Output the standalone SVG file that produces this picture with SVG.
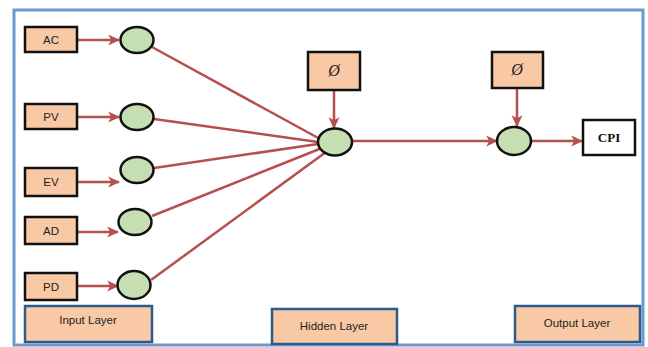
<svg xmlns="http://www.w3.org/2000/svg" width="648" height="347" viewBox="0 0 648 347">
<defs>
<marker id="arr" viewBox="0 0 10 10" refX="9" refY="5" markerWidth="4.8" markerHeight="4.8" orient="auto" markerUnits="strokeWidth">
<path d="M0,0.5 L10,5 L0,9.5 L2.5,5 Z" fill="#b5504f"/>
</marker>
</defs>
<style>
.box{fill:#f9c9a6;stroke:#111;stroke-width:2.5}
.neuron{fill:#c6dfb2;stroke:#111;stroke-width:2.5}
.layer{fill:#f9c9a6;stroke:#2c5a8a;stroke-width:2.5}
.lbl{font-family:"Liberation Sans",Arial,sans-serif;font-size:11.5px;fill:#222;text-anchor:middle}
.phi{font-family:"Liberation Serif",serif;font-style:italic;font-size:16px;fill:#222;text-anchor:middle}
.cpi{font-family:"Liberation Serif",serif;font-weight:bold;font-size:13px;fill:#111;text-anchor:middle}
.conn{stroke:#b5504f;stroke-width:2.5;fill:none}
.arrow{marker-end:url(#arr)}
</style>
<rect width="648" height="347" fill="#ffffff"/>
<rect x="14" y="10" width="629" height="335" fill="#ffffff" stroke="#6c9bd0" stroke-width="3"/>
<g id="connectors">
<line class="conn arrow" x1="77" y1="40" x2="119" y2="40"/>
<line class="conn arrow" x1="77" y1="117" x2="119" y2="117"/>
<line class="conn arrow" x1="77" y1="182" x2="119" y2="182"/>
<line class="conn arrow" x1="77" y1="232" x2="118" y2="232"/>
<line class="conn arrow" x1="77" y1="286" x2="118" y2="286"/>
<line class="conn" x1="152" y1="47" x2="320" y2="139"/>
<line class="conn" x1="154" y1="119" x2="318" y2="142"/>
<line class="conn" x1="154" y1="168" x2="318" y2="144"/>
<line class="conn" x1="152" y1="216" x2="322" y2="148"/>
<line class="conn" x1="151" y1="280" x2="326" y2="152"/>
<line class="conn arrow" x1="334" y1="90" x2="334" y2="128"/>
<line class="conn arrow" x1="352" y1="141" x2="497" y2="141"/>
<line class="conn arrow" x1="517" y1="88" x2="517" y2="126"/>
<line class="conn arrow" x1="532" y1="141" x2="582" y2="141"/>
</g>
<g id="AC"><rect class="box" x="25" y="27" width="52" height="25"/><text class="lbl" x="51" y="44">AC</text></g>
<g id="PV"><rect class="box" x="25" y="104" width="52" height="25"/><text class="lbl" x="51" y="121">PV</text></g>
<g id="EV"><rect class="box" x="25" y="168" width="52" height="28"/><text class="lbl" x="51" y="186">EV</text></g>
<g id="AD"><rect class="box" x="25" y="217" width="52" height="27"/><text class="lbl" x="51" y="235">AD</text></g>
<g id="PD"><rect class="box" x="25" y="273" width="52" height="27"/><text class="lbl" x="51" y="291">PD</text></g>
<g id="n1"><ellipse class="neuron" cx="137" cy="40" rx="16.5" ry="13"/></g>
<g id="n2"><ellipse class="neuron" cx="137" cy="117" rx="16.5" ry="13"/></g>
<g id="n3"><ellipse class="neuron" cx="137" cy="170" rx="16.5" ry="13"/></g>
<g id="n4"><ellipse class="neuron" cx="135" cy="222" rx="16.5" ry="13"/></g>
<g id="n5"><ellipse class="neuron" cx="134" cy="285" rx="16.5" ry="14"/></g>
<g id="phi1"><rect class="box" x="308" y="52" width="52" height="38"/><text class="phi" x="334" y="76">Ø</text></g>
<g id="hidden"><ellipse class="neuron" cx="335" cy="142" rx="17" ry="13.5"/></g>
<g id="phi2"><rect class="box" x="492" y="52" width="51" height="36"/><text class="phi" x="517" y="75">Ø</text></g>
<g id="out"><ellipse class="neuron" cx="514" cy="141" rx="17" ry="14"/></g>
<g id="CPI"><rect x="583" y="120" width="52" height="35" fill="#ffffff" stroke="#111" stroke-width="2.5"/><text class="cpi" x="609" y="142">CPI</text></g>
<g id="inputLayer"><rect class="layer" x="25" y="306" width="127" height="36"/><text class="lbl" x="88" y="324">Input Layer</text></g>
<g id="hiddenLayer"><rect class="layer" x="272" y="309" width="125" height="35"/><text class="lbl" x="334" y="330">Hidden Layer</text></g>
<g id="outputLayer"><rect class="layer" x="515" y="306" width="125" height="36"/><text class="lbl" x="577" y="327">Output Layer</text></g>
</svg>
